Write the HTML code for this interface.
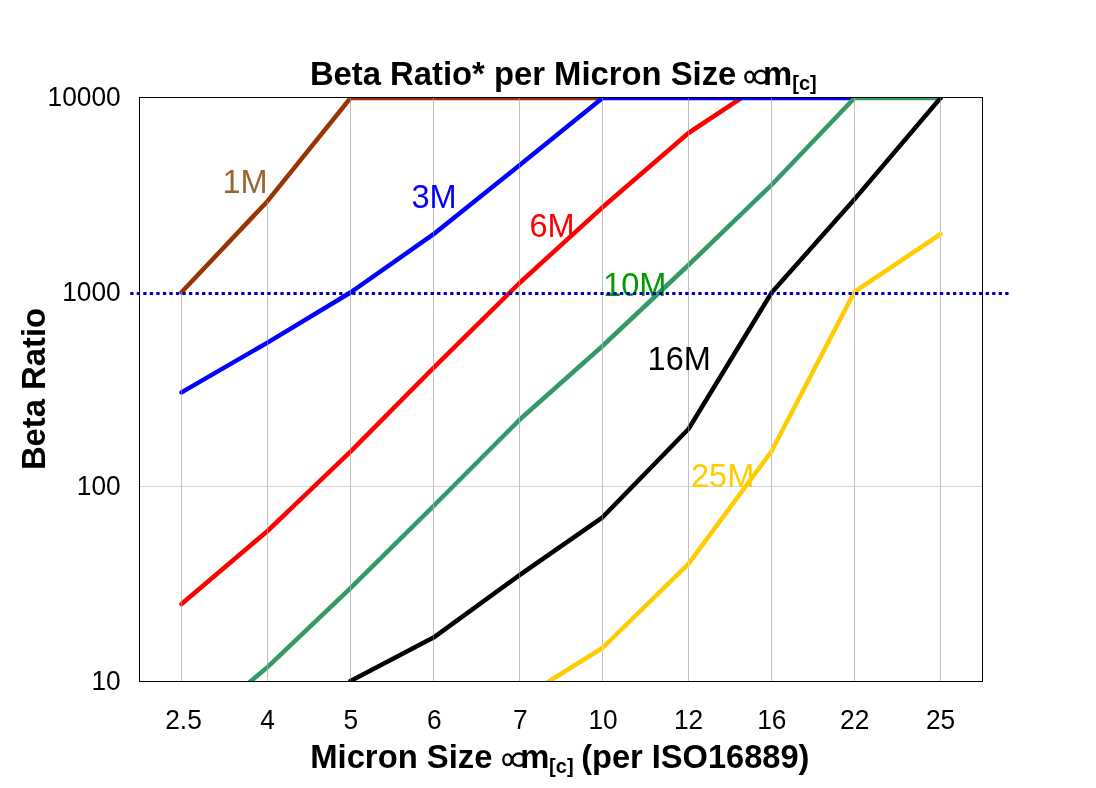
<!DOCTYPE html>
<html><head><meta charset="utf-8">
<style>
html,body{margin:0;padding:0;background:#fff;}
body{width:1096px;height:788px;overflow:hidden;position:relative;font-family:"Liberation Sans",sans-serif;}
svg{position:absolute;left:0;top:0;will-change:transform;}
text{font-family:"Liberation Sans",sans-serif;}
</style></head><body>
<svg width="1096" height="788" viewBox="0 0 1096 788">
<defs>
<clipPath id="pa"><rect x="140" y="98" width="842" height="583.5"/></clipPath>
<g id="prop" fill="none" stroke="#000" stroke-width="2.4"><ellipse cx="749.6" cy="77" rx="4.2" ry="5.3"/><ellipse cx="760.9" cy="77" rx="6.4" ry="6.2"/></g>
</defs>
<rect x="0" y="0" width="1096" height="788" fill="#fff"/>

<g fill="none" shape-rendering="crispEdges"><line x1="140" y1="486.5" x2="982" y2="486.5" stroke="#d6d6d6"/></g>
<!-- gridlines -->
<g stroke="#9e9e9e" stroke-width="1" fill="none" shape-rendering="crispEdges">
<line x1="181.5" y1="292" x2="181.5" y2="681"/>
<line x1="267.5" y1="201" x2="267.5" y2="681"/>
<line x1="350.5" y1="98" x2="350.5" y2="681"/>
<line x1="433.5" y1="98" x2="433.5" y2="681"/>
<line x1="519.5" y1="98" x2="519.5" y2="681"/>
<line x1="602.5" y1="98" x2="602.5" y2="681"/>
<line x1="688.5" y1="98" x2="688.5" y2="681"/>
<line x1="771.5" y1="98" x2="771.5" y2="681"/>
<line x1="854.5" y1="98" x2="854.5" y2="681"/>
<line x1="940.5" y1="98" x2="940.5" y2="681"/>
</g>
<!-- series -->
<g clip-path="url(#pa)" fill="none" stroke-width="4.5" stroke-linecap="round" stroke-linejoin="round">
<polyline stroke="#993300" points="181.5,292.3 267.5,201.2 350.5,98 602.5,98"/>
<polyline stroke="#ff0000" points="181.5,604 267.5,531 350.5,451.7 433.5,367.9 519.5,283 602.5,207.3 688.5,133 771.5,78"/>
<polyline stroke="#0000ff" points="181.5,392.4 267.5,342.6 350.5,292.5 433.5,234.2 519.5,165.3 602.5,98 854.5,98"/>
<polyline stroke="#339966" points="181.5,739.6 267.5,667.1 350.5,588.2 433.5,506 519.5,419.8 602.5,346 688.5,265 771.5,185 854.5,98 940.5,98"/>
<polyline stroke="#000000" points="350.5,681 433.5,637.6 519.5,575.1 602.5,517.3 688.5,429 771.5,292.8 854.5,199.3 940.5,98"/>
<polyline stroke="#ffcc00" points="519.5,699.6 602.5,648 688.5,563.8 771.5,451.3 854.5,291.8 940.5,234.1"/>
</g>

<!-- gridline overlay -->
<g stroke="#ffffff" stroke-opacity="0.35" stroke-width="1" fill="none" shape-rendering="crispEdges">
<line x1="181.5" y1="292" x2="181.5" y2="681"/>
<line x1="267.5" y1="201" x2="267.5" y2="681"/>
<line x1="350.5" y1="98" x2="350.5" y2="681"/>
<line x1="433.5" y1="98" x2="433.5" y2="681"/>
<line x1="519.5" y1="98" x2="519.5" y2="681"/>
<line x1="602.5" y1="98" x2="602.5" y2="681"/>
<line x1="688.5" y1="98" x2="688.5" y2="681"/>
<line x1="771.5" y1="98" x2="771.5" y2="681"/>
<line x1="854.5" y1="98" x2="854.5" y2="681"/>
<line x1="940.5" y1="98" x2="940.5" y2="681"/>
</g>
<!-- border -->
<rect x="139.5" y="97.5" width="843" height="584" fill="none" stroke="#000" stroke-width="1" shape-rendering="crispEdges"/>
<!-- series labels -->
<g font-size="32.5">
<text transform="translate(222.5,193) scale(1,1.03)" fill="#996633">1M</text>
<text transform="translate(411.5,208) scale(1,1.03)" fill="#0000ff">3M</text>
<text transform="translate(529.5,237) scale(1,1.03)" fill="#ff0000">6M</text>
<text transform="translate(603.2,296.2) scale(1,1.03)" fill="#009900">10M</text>
<text transform="translate(647.6,369.6) scale(1,1.03)" fill="#000000">16M</text>
<text transform="translate(691,487) scale(1,1.03)" fill="#ffcc00">25M</text>
</g>
<!-- dotted 1000 line -->
<line x1="130.2" y1="293.5" x2="1009" y2="293.5" stroke="#0000c0" stroke-width="3.2" stroke-dasharray="3.3 3.23"/>
<!-- y tick labels -->
<g font-size="26.3" text-anchor="end" fill="#000">
<text transform="translate(120.7,105.7) scale(1,1.05)">10000</text>
<text transform="translate(120.7,301.3) scale(1,1.05)">1000</text>
<text transform="translate(120.7,494.5) scale(1,1.05)">100</text>
<text transform="translate(120.7,689.6) scale(1,1.05)">10</text>
</g>
<!-- x tick labels -->
<g font-size="26.3" text-anchor="middle" fill="#000">
<text transform="translate(183.5,729.3) scale(1,1.05)">2.5</text>
<text transform="translate(267.5,729.3) scale(1,1.05)">4</text>
<text transform="translate(350.8,729.3) scale(1,1.05)">5</text>
<text transform="translate(434.2,729.3) scale(1,1.05)">6</text>
<text transform="translate(520.2,729.3) scale(1,1.05)">7</text>
<text transform="translate(603.1,729.3) scale(1,1.05)">10</text>
<text transform="translate(688.6,729.3) scale(1,1.05)">12</text>
<text transform="translate(771.8,729.3) scale(1,1.05)">16</text>
<text transform="translate(854.7,729.3) scale(1,1.05)">22</text>
<text transform="translate(940.5,729.3) scale(1,1.05)">25</text>
</g>
<!-- titles -->
<g font-weight="bold" fill="#000">
<text transform="translate(309.9,84.9) " font-size="32.8">Beta Ratio* per Micron Size </text>
<use href="#prop"/>
<text transform="translate(763.1,84.9) " font-size="32.8">m</text>
<text transform="translate(792.3,90) " font-size="20">[c]</text>

<text transform="translate(310.2,767.5) " font-size="32.8">Micron Size </text>
<use href="#prop" transform="translate(-242.1,682.7)"/>
<text transform="translate(520.2,767.5) " font-size="32.8">m</text>
<text transform="translate(549.1,772.8) " font-size="20">[c]</text>
<text transform="translate(581.2,767.5) " font-size="32.6">(per ISO16889)</text>

<text transform="translate(45.2,470.1) rotate(-90) " font-size="32.8">Beta Ratio</text>
</g>
</svg>
</body></html>
